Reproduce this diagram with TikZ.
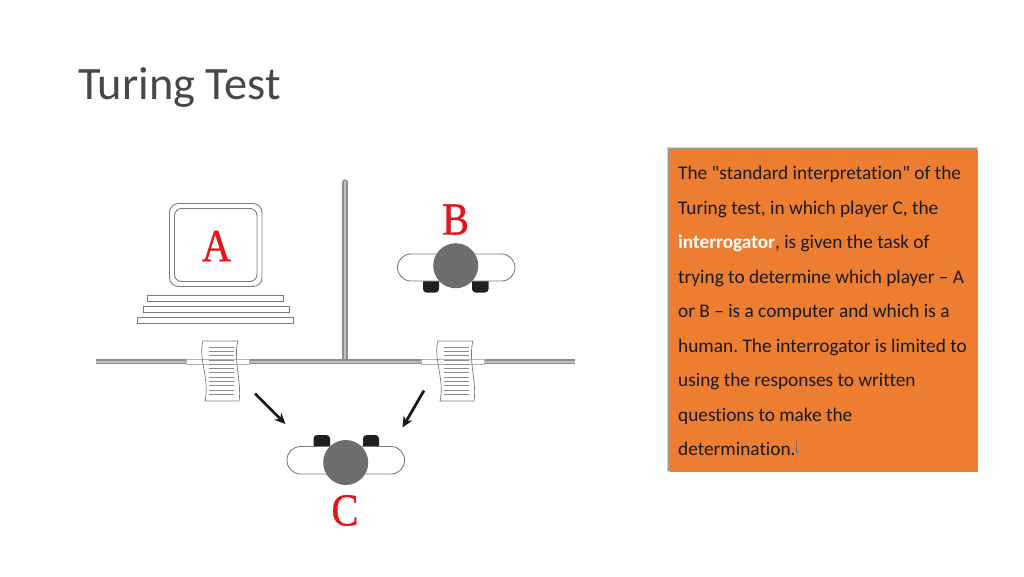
\documentclass[tikz,border=0pt]{standalone}
\usepackage{fontspec}
\newfontfamily\bodyfont[Ligatures=NoCommon]{Carlito}
\newfontfamily\letterfont[FakeStretch=0.88,FakeBold=0.7]{Liberation Serif}
\usetikzlibrary{arrows.meta}
\definecolor{panelorange}{HTML}{ED7D31}
\definecolor{lettred}{HTML}{E2141C}
\definecolor{headgray}{HTML}{6E6E6E}
\definecolor{linegray}{HTML}{7A7A7A}
\tikzset{
  title/.style={anchor=base west,inner sep=0pt,font=\bodyfont\fontsize{46.4}{46}\selectfont,text=black!72},
  body/.style={anchor=base west,inner sep=0pt,font=\bodyfont\frenchspacing\fontsize{19.3}{19}\selectfont,text=black!90},
  letter/.style={anchor=center,inner sep=0pt,text=lettred,font=\letterfont\fontsize{46}{46}\selectfont},
  outline/.style={draw=linegray,line width=0.9pt},
  wallouter/.style={draw=black!45,line width=5.2pt},
  wallinner/.style={draw=white!75!black,line width=2pt},
  gapline/.style={draw=black!30,line width=0.8pt},
  head/.style={circle,fill=headgray,minimum size=45pt,inner sep=0pt},
  hand/.style={fill=black!88,rounded corners=3.5pt},
  arm/.style={draw=linegray,line width=0.9pt,fill=white,rounded corners=13.5pt},
  printline/.style={draw=black!45,line width=0.8pt},
  pointer/.style={draw=black!90,line width=2.8pt,-{Stealth[length=11pt,width=10pt]}}
}
\begin{document}
\begin{tikzpicture}[x=1pt,y=-1pt]
\useasboundingbox (0,0) rectangle (1024,576);
\fill[white] (0,0) rectangle (1024,576);
\node[title] (ttl) at (78,99.5) {Turing Test};

% panel
\fill[black!18] (666.5,146.5) rectangle (977.5,472);
\fill[black!40] (667.5,147.5) rectangle (977,471);
\fill[panelorange] (669.5,149.5) rectangle (977.5,471.5);
\node[body] (l1) at (678,179.5) {The "standard interpretation" of the};
\node[body] (l2) at (678,214) {Turing test, in which player C, the};
\node[body] (l3) at (678,248.5) {\textcolor{white}{\bfseries interrogator}, is given the task of};
\node[body] (l4) at (678,283) {trying to determine which player – A};
\node[body] (l5) at (678,317.5) {or B – is a computer and which is a};
\node[body] (l6) at (678,352) {human. The interrogator is limited to};
\node[body] (l7) at (678,386.5) {using the responses to written};
\node[body] (l8) at (678,421) {questions to make the};
\node[body] (l9) at (678,455.5) {determination.};
\draw[draw=gray!85!blue,line width=0.7pt] (796,440.5) -- (796,452) -- (798.5,452);

% walls
\draw[wallouter,line cap=round] (345,182) -- (345,361.5);
\draw[wallinner] (345,181) -- (345,361);
\draw[wallouter] (96,361.5) -- (186,361.5) (249,361.5) -- (421,361.5) (484,361.5) -- (575,361.5);
\draw[wallinner] (96,361.5) -- (186,361.5) (249,361.5) -- (421,361.5) (484,361.5) -- (575,361.5);
\draw[gapline] (186,359) rectangle (249,364) (421,359) rectangle (484,364);

% monitor A
\draw[outline,rounded corners=9pt] (169.5,203.5) rectangle (262,286.5);
\draw[outline,rounded corners=7pt] (174.5,208.5) rectangle (257,281.5);
\node[letter] (A) at (216.5,246) {A};
\draw[outline] (147.5,295.5) rectangle (283,301.5);
\draw[outline] (143.5,306.5) rectangle (289,312.5);
\draw[outline] (137.5,317.5) rectangle (293.5,323);

% papers
\foreach \dx/\nm in {0/pa,235/pb}{
  \begin{scope}[xshift=\dx pt]
    \draw[outline,line width=0.7pt] (203,341) .. controls (198,358) and (210,380) .. (205,401)
      -- (239,401) .. controls (242,384) and (233,358) .. (238,341) -- cycle;
    \foreach \yy in {347,351.3,355.6,359.9,364.2,368.5,372.8,377.1,381.4,385.7,390,394.3}
      \draw[printline] (208.5,\yy) -- (233.5,\yy);
  \end{scope}
}

% person B
\node[letter] (B) at (455.5,219.5) {B};
\fill[hand] (423,276) rectangle (439,292.5);
\fill[hand] (472,276) rectangle (488.5,292.5);
\draw[arm] (397.5,254) rectangle (515,281);
\node[head] (hb) at (455.7,265.7) {};

% person C
\fill[hand] (313.5,435) rectangle (330,452);
\fill[hand] (363,435) rectangle (379,452);
\draw[arm] (287,446.5) rectangle (404.5,474);
\node[head] (hc) at (345.7,462.5) {};
\node[letter] (C) at (345,510.5) {C};

% arrows
\coordinate (p1s) at (255,393.5);
\coordinate (p1e) at (285.5,424);
\coordinate (p2s) at (424,390.5);
\coordinate (p2e) at (402.5,427.5);
\draw[pointer] (p1s) -- (p1e);
\draw[pointer] (p2s) -- (p2e);
\end{tikzpicture}
\end{document}
